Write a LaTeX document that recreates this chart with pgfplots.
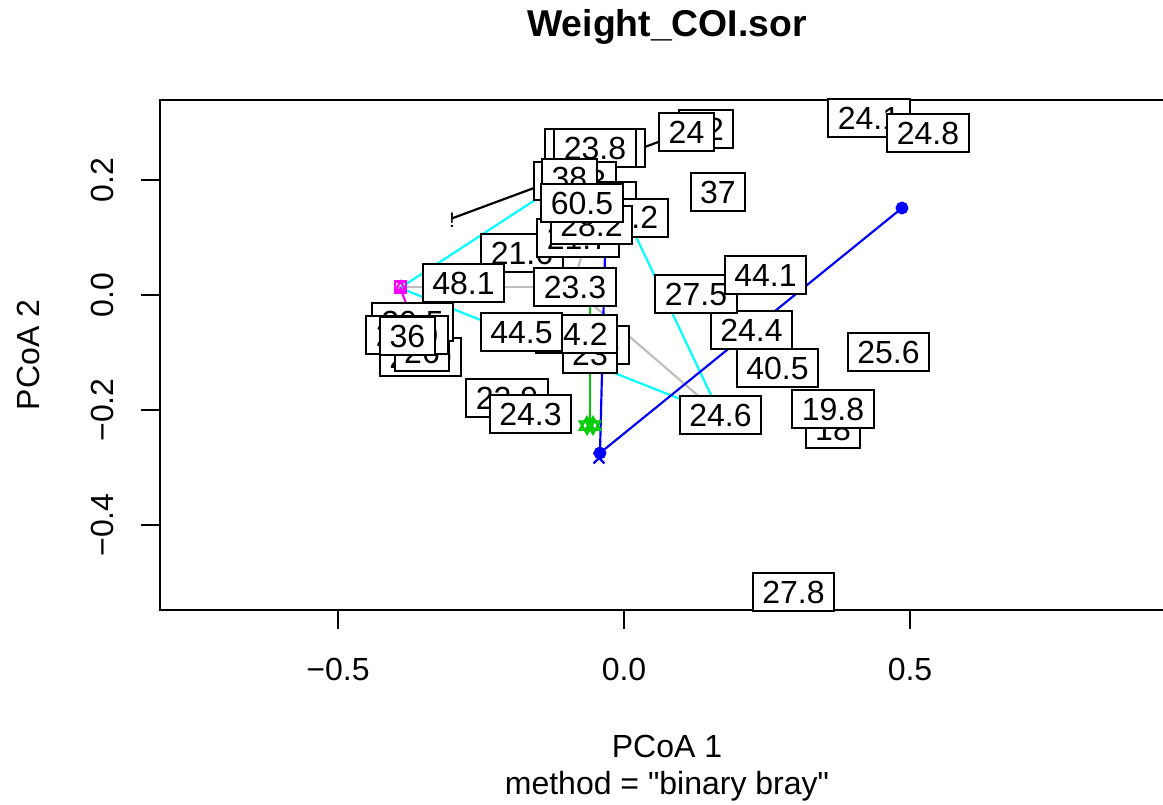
\documentclass[border=0pt]{standalone}
\usepackage{fontspec}
\setmainfont{Liberation Sans}[Ligatures=TeXOff]
\usepackage{pgfplots}
\usepackage{pgfplotstable}
\pgfplotsset{compat=1.18}

\definecolor{rcyan}{RGB}{0,255,255}
\definecolor{rgray}{RGB}{190,190,190}
\definecolor{rgreen}{RGB}{0,205,0}
\definecolor{rblue}{RGB}{0,0,255}
\definecolor{rmagenta}{RGB}{255,0,255}

% PCoA site scores with their weight labels (drawn back to front)
\pgfplotstableread{
x y lab
0.4283 0.3070 24.1
0.5315 0.2826 24.8
0.1434 0.2887 22
0.1093 0.2843 24
0.1643 0.1800 37
-0.0664 0.2565 23.8
-0.0350 0.2565 23.8
-0.0507 0.2565 23.8
-0.0857 0.1991 28.3
-0.0507 0.1635 26.5
-0.0953 0.2043 38
-0.1783 0.0739 21.6
0.0052 0.1348 26.2
-0.0804 0.1000 21.7
-0.0568 0.1226 28.2
-0.0734 0.1600 60.5
-0.2806 0.0217 48.1
-0.0857 0.0139 23.3
0.2229 -0.0609 24.4
0.1259 0.0026 27.5
0.2474 0.0348 44.1
0.2684 -0.1270 40.5
0.4624 -0.0983 25.6
0.3654 -0.2322 18
0.3654 -0.1983 19.8
0.1687 -0.2087 24.6
0.2963 -0.5157 27.8
-0.0385 -0.0870 25
-0.0594 -0.1026 23
-0.0830 -0.0670 24.2
-0.1792 -0.0643 44.5
-0.2045 -0.1783 22.9
-0.1635 -0.2078 24.3
-0.3558 -0.1078 22.0
-0.3531 -0.0991 26
-0.3698 -0.0461 20.5
-0.3794 -0.0696 26.0
-0.3785 -0.0713 36
}\sites

\begin{document}
\begin{tikzpicture}
\path[use as bounding box] (0,0) rectangle (348.9pt,-241.5pt);
\begin{axis}[
  at={(48pt,-30pt)}, anchor=north west,
  scale only axis, width=304.2pt, height=153pt,
  xmin=-0.81119, xmax=0.96154, ymin=-0.54783, ymax=0.33913,
  clip=false,
  axis line style={line width=0.6pt},
  font=\fontsize{9.6}{11.5}\selectfont,
  xtick={-0.5,0,0.5}, xticklabels={−0.5,0.0,0.5},
  ytick={-0.4,-0.2,0,0.2}, yticklabels={−0.4,−0.2,0.0,0.2},
  xtick pos=bottom, ytick pos=left, tick align=outside,
  major tick length=5.7pt,
  tick style={line width=0.6pt, black},
  xticklabel style={anchor=north, inner sep=0pt, text height=6.9pt, text depth=0pt},
  yticklabel style={rotate=90, anchor=south, inner sep=0pt, text height=6.9pt, text depth=0pt},
  xticklabel shift=8.25pt, yticklabel shift=7.95pt,
  every axis plot/.append style={line width=0.65pt},
]
% gray spider
\addplot[rgray, mark=none] coordinates {(-0.0909,0.0139) (-0.3916,0.0139)};
\addplot[rgray, mark=none] coordinates {(-0.0909,0.0139) (0.1687,-0.2087)};
\addplot[rgray, mark=none] coordinates {(-0.0909,0.0139) (-0.0568,0.1226)};
% cyan hull
\addplot[rcyan, mark=none] coordinates {(-0.3916,0.0122) (-0.0953,0.2043) (0.0052,0.1348) (0.1687,-0.2087) (-0.3916,0.0122)};
% black group
\addplot[black, mark=none] coordinates {(-0.2990,0.1339) (0.1093,0.2843)};
\addplot[only marks, mark=text, text mark={\fontsize{6.3}{6.3}\selectfont !}] coordinates {(-0.3007,0.1304)};
% blue group
\addplot[rblue, mark=none] coordinates {(0.4860,0.1513) (-0.0420,-0.2748) (-0.0315,0.1391)};
\addplot[rblue, only marks, mark=*, mark size=1.6pt] coordinates {(0.4860,0.1513) (-0.0420,-0.2748)};
\addplot[rblue, only marks, mark=x, mark size=2.3pt] coordinates {(-0.0437,-0.2835)};
% green group
\addplot[rgreen, mark=none] coordinates {(-0.0594,-0.2261) (-0.0594,0.0087)};
\addplot[rgreen, only marks, mark=triangle, mark size=2.5pt] coordinates {(-0.0647,-0.2270) (-0.0542,-0.2270)};
\addplot[rgreen, only marks, mark=triangle, mark size=2.5pt, mark options={rotate=180}] coordinates {(-0.0647,-0.2270) (-0.0542,-0.2270)};
% magenta group
\addplot[rmagenta, mark=none] coordinates {(-0.3916,0.0139) (-0.3689,-0.0470)};
\addplot[rmagenta, only marks, mark=square, mark size=1.65pt] coordinates {(-0.3907,0.0139)};
\addplot[rmagenta, only marks, mark=triangle, mark size=1.65pt] coordinates {(-0.3907,0.0139)};
% boxed site labels
\addplot[only marks, mark=none, nodes near coords, point meta=explicit symbolic,
  nodes near coords style={anchor=center, draw=black, fill=white, line width=0.6pt,
    inner xsep=2.85pt, inner ysep=2.25pt, text height=6.9pt, text depth=0pt,
    font=\fontsize{9.6}{11.5}\selectfont}]
  table[x=x, y=y, meta=lab] {\sites};
% titles and axis labels
\node[anchor=base, font=\fontsize{11.2}{13}\selectfont\bfseries] at (rel axis cs:0.5,1) [yshift=19.2pt] {Weight\_COI.sor};
\node[anchor=base] at (rel axis cs:0.5,0) [yshift=-44.1pt] {PCoA 1};
\node[anchor=base] at (rel axis cs:0.5,0) [yshift=-55.2pt] {method = "binary bray"};
\path (rel axis cs:0,0.5) ++(-36.15pt,0pt) node[anchor=base, rotate=90] {PCoA 2};
\end{axis}
\end{tikzpicture}
\end{document}
